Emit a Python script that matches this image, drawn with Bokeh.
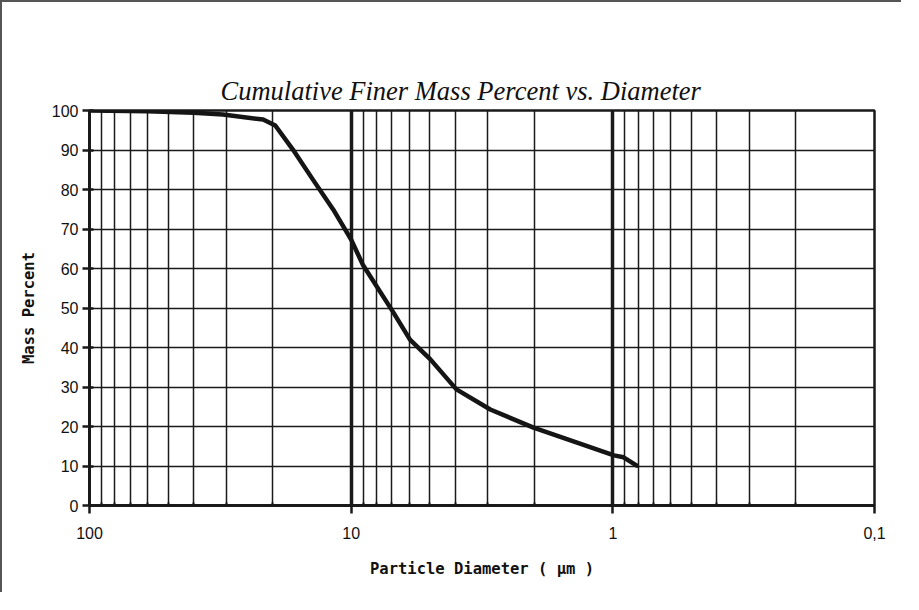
from bokeh.plotting import figure
from bokeh.models import Range1d, FixedTicker, Title
from bokeh.embed import file_html
from bokeh.resources import INLINE

# ---- data ----
diameter_um = [100, 60, 40, 30.9, 21.7, 19.5, 16.7, 14.0, 11.7, 10.0, 9.0,
               6.9, 5.96, 4.98, 3.96, 2.94, 2.01, 1.37, 0.99, 0.91, 0.81]
mass_percent = [100, 99.8, 99.4, 99.0, 97.7, 96.2, 90.1, 82.5, 74.9, 67.3, 60.8,
                48.9, 42.0, 37.0, 29.4, 24.3, 19.7, 15.9, 12.7, 12.2, 10.1]

x_major_ticks = [100, 10, 1, 0.1]
x_major_labels = ["100", "10", "1", "0,1"]
x_minor_ticks = [m * d for d in (10, 1, 0.1) for m in range(2, 10)]
y_ticks = [0, 10, 20, 30, 40, 50, 60, 70, 80, 90, 100]

title_text = "Cumulative Finer Mass Percent vs. Diameter"
x_label = "Particle Diameter ( µm )"
y_label = "Mass Percent"

INK = "#1a1a1a"

p = figure(width=901, height=592, x_axis_type="log",
           x_range=Range1d(100, 0.1), y_range=Range1d(0, 100),
           output_backend="svg", toolbar_location=None,
           min_border_left=87, min_border_right=29,
           min_border_top=108, min_border_bottom=89)
p.styles = {"border-top": "2px solid #555", "border-left": "2px solid #555"}

p.background_fill_color = "white"
p.border_fill_color = "white"
p.outline_line_color = INK
p.outline_line_width = 2.5

xt = FixedTicker(ticks=x_major_ticks, minor_ticks=x_minor_ticks)
p.xaxis.ticker = xt
p.xgrid.ticker = xt
p.xaxis.major_label_overrides = dict(zip(x_major_ticks, x_major_labels))
p.yaxis.ticker = FixedTicker(ticks=y_ticks)

for ax in (p.xaxis, p.yaxis):
    ax.axis_line_color = INK
    ax.axis_line_width = 3
    ax.major_tick_line_color = INK
    ax.major_tick_line_width = 2.5
    ax.major_label_text_font = "Liberation Sans"
    ax.major_label_text_font_size = "16px"
    ax.major_label_text_color = "#111111"
    ax.axis_label_text_font = "DejaVu Sans Mono"
    ax.axis_label_text_font_style = "bold"
    ax.axis_label_text_font_size = "15.5px"
    ax.axis_label_text_color = "#111111"

p.xaxis.major_tick_out = 8
p.xaxis.major_tick_in = 0
p.xaxis.minor_tick_line_color = INK
p.xaxis.minor_tick_line_width = 2
p.xaxis.minor_tick_in = 3
p.xaxis.minor_tick_out = 0
p.xaxis.major_label_standoff = 13
p.xaxis.axis_label = x_label
p.xaxis.axis_label_standoff = 18

p.yaxis.major_tick_out = 7
p.yaxis.major_tick_in = 4
p.yaxis.minor_tick_line_color = None
p.yaxis.major_label_standoff = 4
p.yaxis.axis_label = y_label
p.yaxis.axis_label_standoff = 11

p.xgrid.grid_line_color = INK
p.xgrid.grid_line_width = 3.5
p.xgrid.grid_line_alpha = 1
p.xgrid.minor_grid_line_color = INK
p.xgrid.minor_grid_line_width = 1.5
p.ygrid.grid_line_color = INK
p.ygrid.grid_line_width = 1.6
p.ygrid.grid_line_alpha = 1

p.line(diameter_um, mass_percent, line_color="#151515", line_width=4.5,
       line_join="round", line_cap="round")

# transparent spacer panel next to the frame, then the real title outside it
p.add_layout(Title(text=".", text_font_size="1px", standoff=42,
                   text_color="white", text_alpha=0.0), "above")
p.add_layout(Title(text=title_text, align="left", offset=131, standoff=10,
                   text_font="Liberation Serif", text_font_style="italic",
                   text_font_size="26.5px", text_color="#111111"), "above")

open("out.html", "w").write(file_html(p, INLINE))
